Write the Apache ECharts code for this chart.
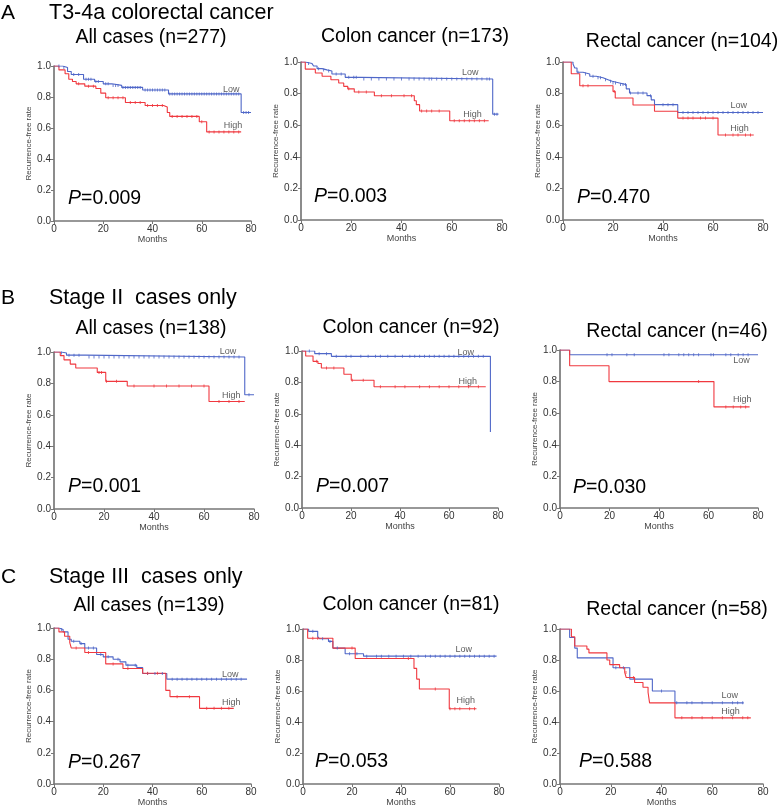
<!DOCTYPE html>
<html>
<head>
<meta charset="utf-8">
<script src="https://cdn.jsdelivr.net/npm/echarts@6/dist/echarts.min.js"></script>
<style>
html,body{margin:0;padding:0;background:#fff;}
#c{width:778px;height:808px;}
</style>
</head>
<body>
<div id="c"></div>
<script>
// ---- Data (months, recurrence-free rate) ----
const monthTicks = [0, 20, 40, 60, 80];
const rateTicks = [0.0, 0.2, 0.4, 0.6, 0.8, 1.0];

// A: T3-4a colorectal cancer
const a1Low = [[0,1],[3.5,0.99],[5.5,0.965],[7,0.945],[12,0.915],[16.5,0.9],[20,0.885],[23.5,0.875],[27.5,0.862],[36,0.845],[46.5,0.82],[76,0.70],[80,0.70]];
const a1High = [[0,1],[2,0.975],[4.5,0.95],[6,0.915],[7.5,0.9],[9,0.885],[12.5,0.87],[17,0.855],[19,0.825],[21,0.795],[29,0.765],[37,0.745],[44.5,0.735],[46,0.70],[47,0.675],[59,0.64],[62,0.575],[76,0.575]];
const a1LowCens = [2,4,8,10,13,14,15,17,18,21,22,24,25,26,28,29,30,31,32,33,34,35,37,38,39,40,41,42,43,44,45,47,48,49,50,51,52,53,54,55,56,57,58,59,60,61,62,63,64,65,66,67,68,69,70,71,72,73,74,75,77,78,79];
const a1HighCens = [10,14,16,22,24,26,28,31,33,35,38,40,42,44,48,50,52,54,56,58,60,63,65,67,69,71,73,75];

const a2Low = [[0,1],[1.7,0.99],[4.4,0.983],[5,0.975],[6.4,0.958],[8.4,0.95],[10.3,0.943],[12.3,0.924],[17.6,0.903],[23.6,0.892],[76.3,0.67],[78.6,0.67]];
const a2High = [[0,1],[1.7,0.955],[5.7,0.93],[8.4,0.91],[11.9,0.888],[15,0.867],[17,0.846],[18.6,0.83],[21.2,0.81],[29.2,0.786],[45.1,0.755],[45.9,0.73],[47.2,0.69],[59.2,0.628],[74.7,0.628]];
const a2LowCens = [3,7,9,11,14,16,19,21,22,25,28,31,34,37,40,43,45,47,49,51,52,54,56,58,60,62,64,66,68,70,72,74,75,77,78];
const a2HighCens = [19,23,26,32,36,41,44,48,50,52,55,61,63,65,67,69,71,73];

const a3Low = [[0,1],[4,0.987],[4.7,0.962],[5.6,0.935],[8,0.924],[10.7,0.91],[13.3,0.9],[16,0.888],[18,0.878],[19.7,0.867],[22.6,0.857],[25.3,0.83],[26.6,0.804],[33.6,0.787],[35.3,0.76],[36.6,0.73],[45.9,0.68],[80,0.68]];
const a3High = [[0,1],[3.3,0.926],[6.7,0.85],[20,0.814],[20.9,0.772],[28,0.728],[36.6,0.688],[45.9,0.645],[62,0.538],[76.3,0.538]];
const a3LowCens = [6,9,12,14,15,17,19,20,21,23,24,25,27,30,32,35,40,42,44,48,50,52,54,56,58,60,62,64,66,68,70,72,74,76,78];
const a3HighCens = [8,10,20.5,48,50,52,55,57,60,65,68,70,73,75];

// B: Stage II cases only
const b1Low = [[0,1],[2.9,0.994],[5,0.98],[12.7,0.968],[76.3,0.728],[80,0.728]];
const b1High = [[0,1],[2.5,0.977],[4,0.95],[6.5,0.923],[8.7,0.898],[17.3,0.87],[20.7,0.813],[29.3,0.783],[62,0.685],[76.3,0.685]];
const b1LowCens = [3,6,8,10,14,16,18,20,22,24,26,28,30,32,34,36,38,40,42,44,46,48,50,52,54,56,58,60,62,64,66,68,70,72,74,78];
const b1HighCens = [18,19,21,25,32,40,45,50,55,60,66,70,74];

const b2Low = [[0,1],[5.2,0.983],[12,0.966],[76.9,0.484]];
const b2High = [[0,1],[1.5,0.968],[4.5,0.934],[6.5,0.92],[7.9,0.892],[17.1,0.852],[20.1,0.814],[29.4,0.772],[75,0.772]];
const b2LowCens = [3,7,10,14,18,20,24,27,30,32,35,38,41,44,46,48,50,52,54,56,58,60,62,64,66,68,70,72,74];
const b2HighCens = [6,10,13,20.5,25,32,38,42,48,52,56,60,64,68,72];

const b3Low = [[0,1],[3.9,0.97],[80,0.97]];
const b3High = [[0,1],[3.9,0.90],[19.8,0.80],[62.2,0.64],[76.6,0.64]];
const b3LowCens = [19,21,27,30,42,44,48,50,52,54,56,61,62,67,69,72,74,76];
const b3HighCens = [56,67,70,73,75];

// C: Stage III cases only
const c1Low = [[0,1],[2,0.99],[3.7,0.975],[5.7,0.928],[7,0.915],[10.5,0.9],[12.5,0.872],[17.3,0.83],[20,0.815],[24,0.8],[26.8,0.783],[29.2,0.762],[33.6,0.747],[36,0.708],[45.8,0.672],[78.4,0.672]];
const c1High = [[0,1],[2,0.975],[4.3,0.947],[6.4,0.906],[7,0.872],[12.5,0.843],[21,0.77],[28,0.74],[36,0.71],[45.4,0.6],[47.1,0.56],[59.1,0.485],[73,0.485]];
const c1LowCens = [3,8,11,14,16,19,22,26,30,33,38,41,44,48,50,52,54,56,58,60,62,64,66,68,70,72,74,76];
const c1HighCens = [9,14,24,30,38,42,50,55,62,65,68,71];

const c2Low = [[0,1],[2.3,0.985],[6,0.951],[6.8,0.937],[10.4,0.92],[12.2,0.877],[17.2,0.84],[24.7,0.825],[79,0.825]];
const c2High = [[0,1],[1.9,0.94],[12.2,0.877],[21.3,0.81],[45.3,0.746],[46.4,0.677],[47.5,0.613],[59.7,0.486],[70.8,0.486]];
const c2LowCens = [4,8,11,14,19,22,26,30,32,35,38,41,44,47,50,52,54,56,58,60,62,64,66,68,70,72,74,76,78];
const c2HighCens = [4,6,20,43,54,60,62,64,68,70];

const c3Low = [[0,1],[3.8,0.945],[5.8,0.877],[6.8,0.814],[20.9,0.75],[27.5,0.677],[36.4,0.6],[45.3,0.524],[72.4,0.524]];
const c3High = [[0,1],[4.5,0.95],[5.8,0.89],[10.6,0.87],[11.4,0.846],[18.5,0.8],[19.6,0.77],[23.5,0.75],[25.5,0.72],[26.1,0.687],[29.4,0.655],[32.7,0.624],[34.7,0.592],[35.3,0.524],[45.3,0.427],[75.2,0.427]];
const c3LowCens = [22,25,40,46,50,52,56,60,64,68,70,72];
const c3HighCens = [26,29,48,52,56,60,64,68,72,74];

const panelTitles = ['All cases (n=277)','Colon cancer (n=173)','Rectal cancer (n=104)',
                     'All cases (n=138)','Colon cancer (n=92)','Rectal cancer (n=46)',
                     'All cases (n=139)','Colon cancer (n=81)','Rectal cancer (n=58)'];
const pValues = ['0.009','0.003','0.470','0.001','0.007','0.030','0.267','0.053','0.588'];
const sectionLetters = ['A','B','C'];
const sectionTitles = ['T3-4a colorectal cancer','Stage II  cases only','Stage III  cases only'];

// ---- Layout (pixels) ----
const panels = [
  {grid:{left:54,top:66,width:197,height:155}, low:a1Low, high:a1High, lc:a1LowCens, hc:a1HighCens, title:[151,38], p:[68,199], lowLab:[72,0.85], highLab:[72.7,0.615]},
  {grid:{left:301,top:62,width:201,height:158}, low:a2Low, high:a2High, lc:a2LowCens, hc:a2HighCens, title:[415,37], p:[314,197], lowLab:[67.4,0.934], highLab:[68.3,0.666]},
  {grid:{left:563,top:62,width:200,height:158}, low:a3Low, high:a3High, lc:a3LowCens, hc:a3HighCens, title:[682,42], p:[577,198], lowLab:[70.3,0.724], highLab:[70.6,0.576]},
  {grid:{left:54,top:352,width:200,height:157}, low:b1Low, high:b1High, lc:b1LowCens, hc:b1HighCens, title:[151,329], p:[68,487], lowLab:[69.6,1.0], highLab:[70.9,0.72]},
  {grid:{left:302,top:351,width:196,height:157}, low:b2Low, high:b2High, lc:b2LowCens, hc:b2HighCens, title:[411,328], p:[316,487], lowLab:[66.8,0.99], highLab:[67.7,0.808]},
  {grid:{left:560,top:350,width:198,height:158}, low:b3Low, high:b3High, lc:b3LowCens, hc:b3HighCens, title:[677,332], p:[573,488], lowLab:[73.3,0.933], highLab:[73.6,0.687]},
  {grid:{left:54,top:628,width:197,height:156}, low:c1Low, high:c1High, lc:c1LowCens, hc:c1HighCens, title:[149,606], p:[68,763], lowLab:[71.6,0.704], highLab:[72,0.521]},
  {grid:{left:303,top:629,width:196,height:158}, low:c2Low, high:c2High, lc:c2LowCens, hc:c2HighCens, title:[411,605], p:[315,762], lowLab:[65.6,0.867], highLab:[66.4,0.541]},
  {grid:{left:560,top:629,width:203,height:158}, low:c3Low, high:c3High, lc:c3LowCens, hc:c3HighCens, title:[677,610], p:[579,762], lowLab:[66.9,0.571], highLab:[67.2,0.465]}
];
const sectionY = [13, 298, 577];

const LOW_COLOR = '#4f67c8';
const HIGH_COLOR = '#f0383f';
const FONT = '"Liberation Sans", Arial, Helvetica, sans-serif';

function stepValue(curve, t){
  let v = curve[0][1];
  for (const [x,y] of curve){ if (x <= t) v = y; else break; }
  return v;
}

const grids = [], xAxes = [], yAxes = [], series = [], graphics = [];
panels.forEach((p, i) => {
  grids.push(p.grid);
  xAxes.push({
    gridIndex:i, type:'value', min:monthTicks[0], max:monthTicks[monthTicks.length-1], interval:20,
    name:'Months', nameLocation:'middle', nameGap:13,
    nameTextStyle:{fontSize:9, color:'#444', fontFamily:FONT},
    axisLine:{lineStyle:{color:'#777', width:1.5}},
    axisTick:{show:true, length:3, lineStyle:{color:'#777'}},
    axisLabel:{fontSize:10, color:'#333', margin:3, fontFamily:FONT},
    splitLine:{show:false}
  });
  yAxes.push({
    gridIndex:i, type:'value', min:rateTicks[0], max:rateTicks[rateTicks.length-1], interval:0.2,
    name:'Recurrence-free rate', nameLocation:'middle', nameGap:15,
    nameTextStyle:{fontSize:8, color:'#444', fontFamily:FONT},
    axisLine:{show:true, lineStyle:{color:'#666', width:1.5}},
    axisTick:{show:true, length:3, lineStyle:{color:'#777'}},
    axisLabel:{fontSize:10, color:'#333', margin:3, fontFamily:FONT, formatter:v=>v.toFixed(1)},
    splitLine:{show:false}
  });
  [[p.low, p.lc, LOW_COLOR, 'Low', p.lowLab],[p.high, p.hc, HIGH_COLOR, 'High', p.highLab]].forEach(([curve, cens, color, lab, labPos]) => {
    series.push({
      type:'line', xAxisIndex:i, yAxisIndex:i, data:curve, step:'end',
      symbol:'none', lineStyle:{color:color, width:1.1}, silent:true, animation:false, z:3
    });
    series.push({
      type:'scatter', xAxisIndex:i, yAxisIndex:i,
      data:cens.map(t => [t, stepValue(curve, t)]),
      symbol:'rect', symbolSize:[1,3], itemStyle:{color:color, opacity:0.8}, silent:true, animation:false, z:4
    });
    series.push({
      type:'scatter', xAxisIndex:i, yAxisIndex:i, data:[labPos],
      symbolSize:0, silent:true, animation:false,
      label:{show:true, position:'inside', formatter:lab, fontSize:9, color:'#333', fontFamily:FONT}
    });
  });
  graphics.push({
    type:'text', x:p.title[0], y:p.title[1],
    style:{text:panelTitles[i], font:'19.5px ' + FONT, fill:'#000', align:'center', verticalAlign:'middle'}
  });
  graphics.push({
    type:'text', x:p.p[0], y:p.p[1],
    style:{text:'{i|P}=' + pValues[i], font:'19.5px ' + FONT, fill:'#000', align:'left', verticalAlign:'middle',
      rich:{i:{fontStyle:'italic', fontSize:19.5, fontFamily:FONT, fill:'#000'}}}
  });
});
sectionLetters.forEach((s, k) => {
  graphics.push({type:'text', x:1, y:sectionY[k], style:{text:s, font:'21px ' + FONT, fill:'#000', align:'left', verticalAlign:'middle'}});
  graphics.push({type:'text', x:49, y:sectionY[k], style:{text:sectionTitles[k], font:'21.5px ' + FONT, fill:'#000', align:'left', verticalAlign:'middle'}});
});

const chart = echarts.init(document.getElementById('c'), null, {renderer:'canvas'});
chart.setOption({
  animation:false,
  backgroundColor:'#fff',
  grid:grids, xAxis:xAxes, yAxis:yAxes, series:series, graphic:graphics
});
</script>
</body>
</html>
